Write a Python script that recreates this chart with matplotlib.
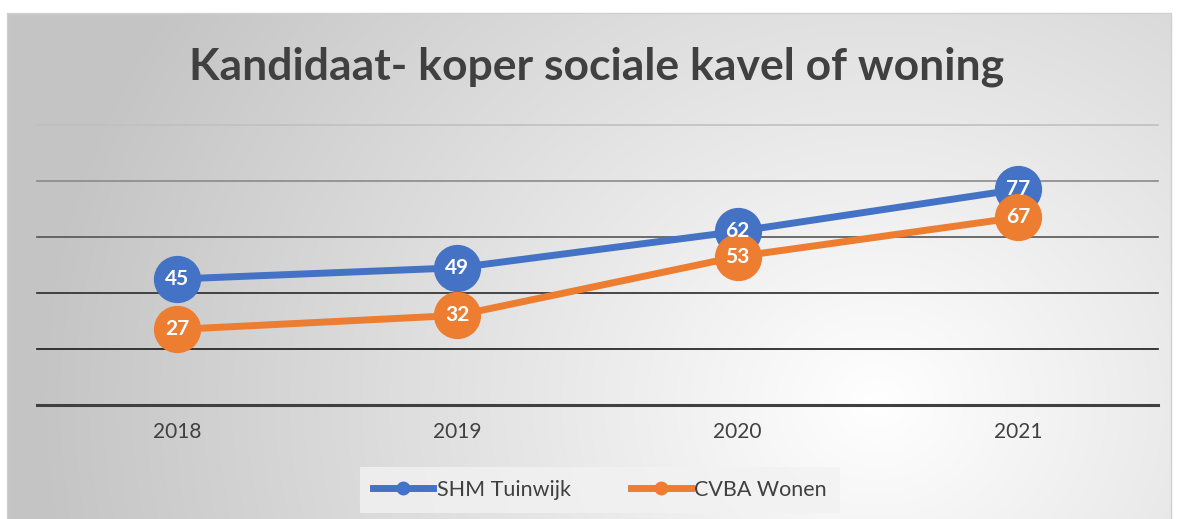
import numpy as np
import matplotlib.pyplot as plt
from matplotlib.lines import Line2D

# data
years = ['2018', '2019', '2020', '2021']
shm = [45, 49, 62, 77]
cvba = [27, 32, 53, 67]
series_names = ['SHM Tuinwijk', 'CVBA Wonen']
grid_vals = [0, 20, 40, 60, 80, 100]

blue = '#4472c4'
orange = '#ed7d31'
text_col = '#404040'
plt.rcParams['font.family'] = ['Lato', 'DejaVu Sans']

W, H = 1178, 519
fig = plt.figure(figsize=(W / 100, H / 100), dpi=100)

# background panel with radial gradient
bg = fig.add_axes([0, 0, 1, 1])
bg.set_xlim(0, W)
bg.set_ylim(H, 0)
bg.axis('off')
yy, xx = np.mgrid[0:H, 0:W]
cx, cy = 880, 400
r = np.sqrt(((xx - cx) / 1.0) ** 2 + ((yy - cy) / 0.9) ** 2)
t = np.clip(r / 850, 0, 1)
shade = 1.0 - 0.23 * t
img = np.dstack([shade, shade, shade])
bg.imshow(img, extent=[7, 1171, H, 13], aspect='auto', zorder=0)
bg.plot([7, 7, 1171, 1171], [H, 13, 13, H], color='#d0d0d0', lw=1, zorder=1)

ax = fig.add_axes([37 / W, 114 / H, (1158 - 37) / W, (405 - 125) / H])
ax.patch.set_alpha(0)
x = np.arange(len(years))
ax.set_xlim(-0.5, len(years) - 0.5)
ax.set_ylim(0, 100)
for s in ax.spines.values():
    s.set_visible(False)

grid_cols = ['#404040', '#1a1a1a', '#2a2a2a', '#555555', '#8a8a8a', '#c0c0c0']
grid_lw = [2.2, 1.2, 1.2, 1.2, 1.2, 1.2]
for v, c, lw in zip(grid_vals, grid_cols, grid_lw):
    ax.axhline(v, color=c, lw=lw, zorder=1, clip_on=False)

for vals, col in [(shm, blue), (cvba, orange)]:
    ax.plot(x, vals, color=col, lw=5, marker='o', markersize=33,
            zorder=3, clip_on=False, solid_capstyle='round')
    for xi, v in zip(x, vals):
        ax.text(xi, v, str(v), color='white', fontsize=15, fontweight='bold',
                ha='center', va='center', zorder=4)

ax.set_yticks([])
ax.set_xticks(x)
ax.set_xticklabels(years, fontsize=15, color=text_col)
ax.tick_params(axis='x', length=0, pad=12)

fig.text(597 / W, 1 - 67 / H, 'Kandidaat- koper sociale kavel of woning',
         ha='center', va='center', fontsize=32, fontweight='bold', color=text_col)

handles = [Line2D([], [], color=blue, lw=5, marker='o', markersize=9),
           Line2D([], [], color=orange, lw=5, marker='o', markersize=9)]
leg = fig.legend(handles, series_names, loc='center', bbox_to_anchor=(600 / W, 1 - 490 / H),
                 ncol=2, fontsize=15.5, frameon=True, fancybox=False, handlelength=2.8,
                 handletextpad=0.15, columnspacing=2.8, borderpad=0.6, borderaxespad=0)
leg.get_frame().set_facecolor('#f2f2f2')
leg.get_frame().set_edgecolor('none')
for tx in leg.get_texts():
    tx.set_color(text_col)

fig.savefig('out.png', dpi=100)
